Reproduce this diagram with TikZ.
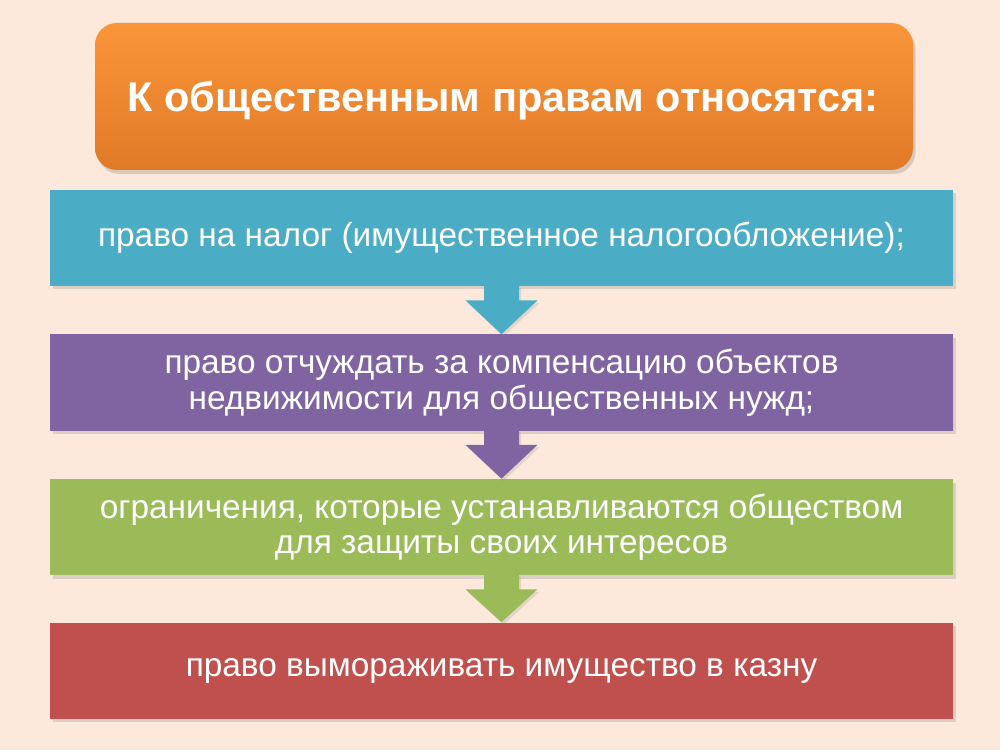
\documentclass[tikz,border=0pt]{standalone}
\usepackage{fontspec}
\setmainfont{Liberation Sans}
\usetikzlibrary{calc,shadows}

\definecolor{peach}{HTML}{FCE9DB}
\definecolor{orangetop}{HTML}{F99539}
\definecolor{orangebot}{HTML}{E17A27}
\definecolor{boxblue}{HTML}{4BACC6}
\definecolor{boxpurple}{HTML}{8064A2}
\definecolor{boxgreen}{HTML}{9BBB59}
\definecolor{boxred}{HTML}{C0504D}

\begin{document}
\begin{tikzpicture}[x=1cm,y=1cm,
  heading/.style={rounded corners=0.44cm,top color=orangetop,bottom color=orangebot,
    minimum width=16.36cm,minimum height=2.94cm,text=white,
    font=\fontsize{23.6}{28}\selectfont\bfseries,
    drop shadow={shadow xshift=0.05,shadow yshift=-0.08,opacity=0.3}},
  rightsbox/.style={fill=#1,minimum width=18.06cm,minimum height=1.92cm,text=white,
    align=center,font=\fontsize{19}{20.2}\selectfont,
    drop shadow={shadow xshift=0.06,shadow yshift=-0.07,opacity=0.25}},
  downarrow/.style={fill=#1,drop shadow={shadow xshift=0.04,shadow yshift=-0.05,opacity=0.2}}]
\fill[peach] (0,0) rectangle (20,15);

\node[heading] (title) at (10.08,13.07) {};
\node[text=white,font=\fontsize{23.6}{28}\selectfont\bfseries] (titletext) at (10.06,12.98) {К общественным правам относятся:};

\node[rightsbox=boxblue] (tax) at (10.03,10.24) {право на налог (имущественное налогообложение);};
\node[rightsbox=boxpurple] (alien) at (10.03,7.35) {право отчуждать за компенсацию объектов\\недвижимости для общественных нужд;};
\node[rightsbox=boxgreen] (limits) at (10.03,4.46) {ограничения, которые устанавливаются обществом\\для защиты своих интересов};
\node[rightsbox=boxred] (seize) at (10.03,1.59) {право вымораживать имущество в казну};

% arrows between the boxes
\fill[downarrow=boxblue] ($(tax.south)+(-0.35,0.02)$) -- ($(tax.south)+(-0.35,-0.28)$)
  -- ($(tax.south)+(-0.72,-0.28)$) -- (alien.north) -- ($(tax.south)+(0.72,-0.28)$)
  -- ($(tax.south)+(0.35,-0.28)$) -- ($(tax.south)+(0.35,0.02)$) -- cycle;
\fill[downarrow=boxpurple] ($(alien.south)+(-0.35,0.02)$) -- ($(alien.south)+(-0.35,-0.28)$)
  -- ($(alien.south)+(-0.72,-0.28)$) -- (limits.north) -- ($(alien.south)+(0.72,-0.28)$)
  -- ($(alien.south)+(0.35,-0.28)$) -- ($(alien.south)+(0.35,0.02)$) -- cycle;
\fill[downarrow=boxgreen] ($(limits.south)+(-0.35,0.02)$) -- ($(limits.south)+(-0.35,-0.28)$)
  -- ($(limits.south)+(-0.72,-0.28)$) -- (seize.north) -- ($(limits.south)+(0.72,-0.28)$)
  -- ($(limits.south)+(0.35,-0.28)$) -- ($(limits.south)+(0.35,0.02)$) -- cycle;
\end{tikzpicture}
\end{document}
